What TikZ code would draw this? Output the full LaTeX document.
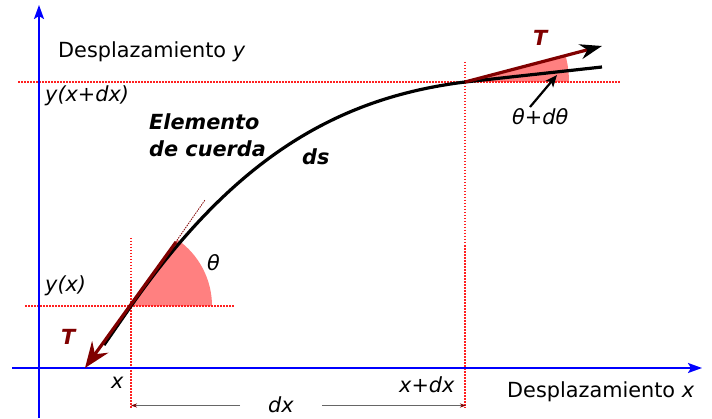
\documentclass[tikz,border=0pt]{standalone}
\usepackage{fontspec}
\setmainfont{DejaVu Sans}
\usetikzlibrary{arrows.meta}
\definecolor{tred}{HTML}{800000}
\definecolor{wedgecol}{HTML}{FF8080}
\definecolor{guidecol}{HTML}{FF2020}
\definecolor{dimcol}{HTML}{666666}
\begin{document}
\begin{tikzpicture}[x=1pt,y=1pt,
  lbl/.style={font=\fontsize{20.8}{24}\selectfont, inner sep=0pt, text=black},
  blbl/.style={font=\fontsize{20.8}{24}\selectfont\bfseries\itshape, inner sep=0pt},
  axisline/.style={blue, line width=2.2pt, -{Stealth[length=14pt,width=10pt,inset=3pt]}},
  guide/.style={guidecol, line width=1.3pt, dash pattern=on 1.5pt off 1.5pt},
  tangent/.style={tred, line width=0.8pt, dash pattern=on 1.5pt off 1pt},
  wedge/.style={fill=wedgecol},
  stringline/.style={black, line width=3.2pt},
  tarrowA/.style={tred, line width=3.2pt, -{Stealth[length=26pt,width=20pt,inset=9pt]}},
  tarrowB/.style={tred, line width=3.2pt, -{Stealth[length=22pt,width=15pt,inset=7pt,color=black]}},
  pointer/.style={black, line width=2.2pt, -{Stealth[length=12pt,width=10pt,inset=3pt]}},
  dimline/.style={dimcol, line width=1.3pt, -{Stealth[length=6pt,width=4pt,color=tred]}}
]
\useasboundingbox (0,0) rectangle (712,418);

% key points
\coordinate (A) at (131,112);
\coordinate (B) at (465,336);
\coordinate (C0) at (104,73);
\coordinate (E) at (602,351);
\coordinate (TA0) at (176,176);
\coordinate (TAtip) at (85,50);
\coordinate (TBtip) at (602,372);
\coordinate (tan1) at (205,218);

% wedges
\fill[wedge] (A) -- ++(81,0) arc[start angle=0,end angle=55,radius=81] -- cycle;
\fill[wedge] (B) -- ++(104,0) arc[start angle=0,end angle=14.5,radius=104] -- cycle;

% guide lines
\coordinate (gAv1) at (131,180);
\coordinate (gAv2) at (131,10);
\coordinate (gAh1) at (25,112);
\coordinate (gAh2) at (235,112);
\coordinate (gBv1) at (465,356);
\coordinate (gBv2) at (465,10);
\coordinate (gBh1) at (18,336);
\coordinate (gBh2) at (620,336);
\draw[guide] (gAv1) -- (gAv2);
\draw[guide] (gAh1) -- (gAh2);
\draw[guide] (gBv1) -- (gBv2);
\draw[guide] (gBh1) -- (gBh2);

% axes
\coordinate (xax0) at (12,50);
\coordinate (xax1) at (702,50);
\coordinate (yax0) at (39,0);
\coordinate (yax1) at (39,413);
\draw[axisline] (xax0) -- (xax1);
\draw[axisline] (yax0) -- (yax1);

% tangent at A
\draw[tangent] (A) -- (tan1);

% string element
\draw[stringline] (C0) -- (A) .. controls (234,259) and (336,320) .. (B) -- (E);

% tension arrows
\draw[tarrowA] (TA0) -- (TAtip);
\draw[tarrowB] (B) -- (TBtip);

% pointer to theta+dtheta
\coordinate (p0) at (530,311);
\coordinate (p1) at (557,343);
\draw[pointer] (p0) -- (p1);

% dx dimension
\coordinate (dxL) at (131,12.5);
\coordinate (dxR) at (466,12.5);
\coordinate (dxm1) at (240,12.5);
\coordinate (dxm2) at (322,12.5);
\draw[dimline] (dxm1) -- (dxL);
\draw[dimline] (dxm2) -- (dxR);

% labels
\node[lbl, anchor=base west] (ydesp) at (58,360) {Desplazamiento \textit{y}};
\node[lbl, anchor=base west] (xdesp) at (507,21) {Desplazamiento \textit{x}};
\node[lbl, anchor=base west] (yxdx) at (45,316) {\itshape y(x+dx)};
\node[lbl, anchor=base west] (yx) at (45,127) {\itshape y(x)};
\node[lbl, anchor=base west] (xlab) at (111,30) {\itshape x};
\node[lbl, anchor=base west] (xdxlab) at (399,26) {\itshape x+dx};
\node[lbl, anchor=base] (dxlab) at (281,6) {\itshape dx};
\node[lbl, anchor=base west] (th) at (207,147) {\itshape θ};
\node[lbl, anchor=base west] (thd) at (512,293) {\itshape θ+dθ};
\node[blbl, anchor=base west] (el1) at (149,288) {Elemento};
\node[blbl, anchor=base west] (el2) at (149,261) {de cuerda};
\node[blbl, anchor=base west] (ds) at (302,253) {ds};
\node[blbl, anchor=base west, text=tred] (TlA) at (61,74) {T};
\node[blbl, anchor=base west, text=tred] (TlB) at (533,372) {T};
\end{tikzpicture}
\end{document}
